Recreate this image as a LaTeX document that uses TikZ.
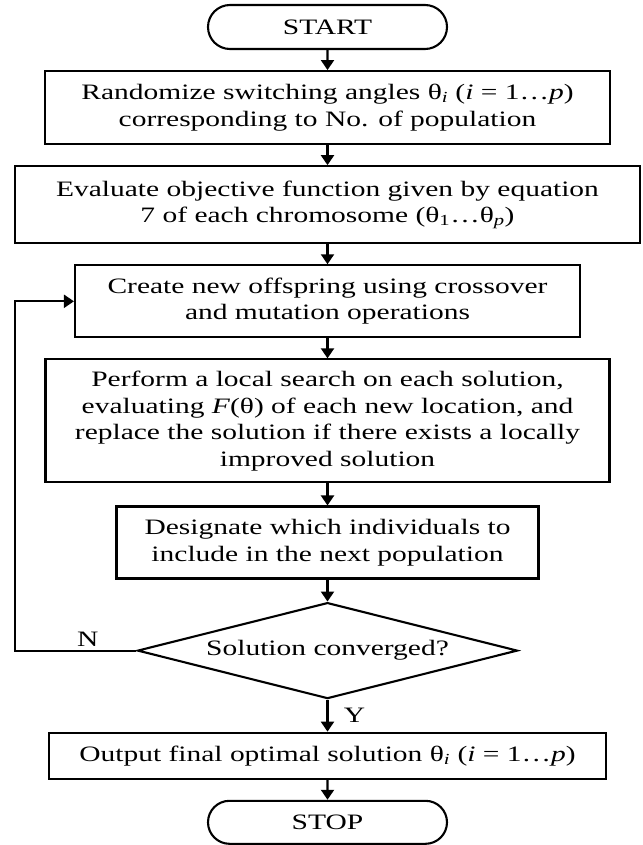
\documentclass[tikz,border=0pt]{standalone}
\usepackage{fontspec}
\setmainfont{Liberation Serif}[FakeStretch=1.34]
\usetikzlibrary{shapes,arrows.meta}
\usetikzlibrary{positioning}
\tikzset{
	stepBox/.style={
		draw=black,
		line width=2.1pt,
		align=center,
		inner sep=0pt,
		text = black
	},
	termBox/.style={
		rounded rectangle,
		draw=black,
		line width=2.1pt,
		inner sep=0pt,
		text = black
	},
	testBox/.style={
		diamond,
		aspect=3.96,
		draw=black,
		line width=2.1pt,
		inner sep=0pt,
		text = black
	},
}

\begin{document}
\begin{tikzpicture}[x=1pt, y=-1pt
    , every node/.style={font=\fontsize{22}{26.5}\selectfont}
    , arr/.style={line width=2.1pt, -{Triangle[width=13pt,length=10pt]}}
    ]
\useasboundingbox (0,0) rectangle (642,845);
\node[termBox, minimum width=239pt, minimum height=44pt] (start) at (327.5,27) {START};
\node[stepBox, minimum width=565pt, minimum height=73pt, below=20pt of start] (rand)
    {Randomize switching angles θ\textsubscript{\textit{i}} (\textit{i} = 1\ldots\textit{p})\\corresponding to No. of population};
\node[stepBox, minimum width=625pt, minimum height=77pt, below=20pt of rand] (eval)
    {Evaluate objective function given by equation\\7 of each chromosome (θ\textsubscript{1}\ldots θ\textsubscript{\textit{p}})};
\node[stepBox, minimum width=505pt, minimum height=72pt, below=20pt of eval] (create)
    {Create new offspring using crossover\\and mutation operations};
\node[stepBox, minimum width=564pt, minimum height=123pt, below=20pt of create] (search)
    {Perform a local search on each solution,\\evaluating \textit{F}(θ) of each new location, and\\replace the solution if there exists a locally\\improved solution};
\node[stepBox, minimum width=422pt, minimum height=72pt, below=22pt of search] (select)
    {Designate which individuals to\\include in the next population};
% decision
\node[testBox, minimum width=380pt, minimum height=96pt, below=22pt of select] (test) {Solution converged?};
\node[stepBox, minimum width=557pt, minimum height=46pt, below=32pt of test] (out)
    {Output final optimal solution θ\textsubscript{\textit{i}} (\textit{i} = 1\ldots\textit{p})};
\node[termBox, minimum width=239pt, minimum height=43pt, below=20pt of out] (stop) {STOP};
\coordinate (back) at (15,0);

\draw[arr] (start) -- (rand);
\draw[arr] (rand) -- (eval);
\draw[arr] (eval) -- (create);
\draw[arr] (create) -- (search);
\draw[arr] (search) -- (select);
\draw[arr] (select) -- (test);
\draw[arr] (test) -- node[right=12pt] {Y} (out);
\draw[arr] (out) -- (stop);
% loop back
\draw[arr] (test.west) -- node[above, pos=0.4] {N} (test.west -| back) |- (create.west);
\end{tikzpicture}
\end{document}
